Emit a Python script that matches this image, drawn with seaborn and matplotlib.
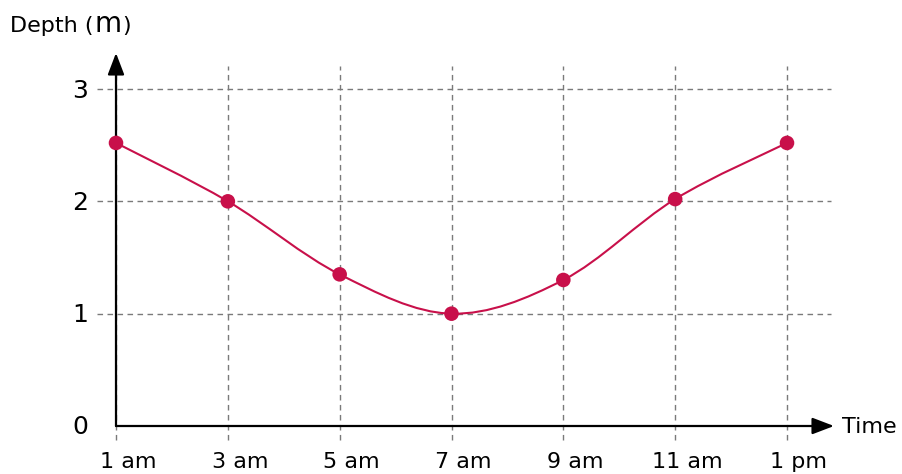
import numpy as np
import pandas as pd
import matplotlib
matplotlib.use("Agg")
import matplotlib.pyplot as plt
import seaborn as sns
from matplotlib.path import Path
from matplotlib.patches import PathPatch
import matplotlib.transforms as mtransforms

# ---- data ----
times = ["1 am", "3 am", "5 am", "7 am", "9 am", "11 am", "1 pm"]
depth = [2.52, 2.0, 1.35, 1.0, 1.3, 2.02, 2.52]
y_ticks = [0, 1, 2, 3]

sns.set_theme(style="white")
plt.rcParams['font.family'] = ['DejaVu Sans']
plt.rcParams['text.color'] = 'black'
plt.rcParams['xtick.color'] = 'black'
plt.rcParams['ytick.color'] = 'black'

RED = "#C8104A"
GRID = "#7a7a7a"

W, H = 902, 474
fig = plt.figure(figsize=(W / 100, H / 100), dpi=100)
x0, x1 = 116, 787
y0, y1 = 426, 89
ax = fig.add_axes([x0 / W, 1 - y0 / H, (x1 - x0) / W, (y0 - y1) / H])

df = pd.DataFrame({"time": times, "depth": depth, "pos": np.arange(len(times))})
ax.set_xlim(0, len(times) - 1)
ax.set_ylim(0, 3)
for s in ax.spines.values():
    s.set_visible(False)

pxx = (len(times) - 1) / (x1 - x0)   # data units per pixel in x
pxy = 3 / (y0 - y1)                  # data units per pixel in y

# grid lines (extend past the axes)
for i in range(len(times)):
    ax.plot([i, i], [-(440 - y0) * pxy, 3 + (y1 - 66) * pxy], color=GRID, lw=1,
            ls=(0, (4, 3.2)), clip_on=False, zorder=1)
for v in y_ticks[1:]:
    ax.plot([-(x0 - 97) * pxx, (831 - x0) * pxx], [v, v], color=GRID, lw=1,
            ls=(0, (4, 3.2)), clip_on=False, zorder=1)

# axes with arrows
arrow_style = "-|>,head_length=1.1,head_width=0.42"
ax.annotate("", xy=((834 - x0) * pxx, 0), xytext=(0, 0),
            arrowprops=dict(arrowstyle=arrow_style, color="black", lw=1.6,
                            shrinkA=0, shrinkB=0),
            annotation_clip=False, zorder=3)
ax.annotate("", xy=(0, 3 + (y1 - 53) * pxy), xytext=(0, 0),
            arrowprops=dict(arrowstyle=arrow_style, color="black", lw=1.6,
                            shrinkA=0, shrinkB=0),
            annotation_clip=False, zorder=3)

# smooth curve through the points (Catmull-Rom as cubic Bezier)
P = np.column_stack([df["pos"].values, df["depth"].values]).astype(float)
n = len(P)
verts = [P[0]]
codes = [Path.MOVETO]
for i in range(n - 1):
    p0 = P[i - 1] if i > 0 else P[i]
    p1, p2 = P[i], P[i + 1]
    p3 = P[i + 2] if i + 2 < n else P[i + 1]
    c1 = p1 + (p2 - p0) / 6
    c2 = p2 - (p3 - p1) / 6
    verts += [c1, c2, p2]
    codes += [Path.CURVE4] * 3
ax.add_patch(PathPatch(Path(verts, codes), facecolor="none", edgecolor=RED,
                       lw=1.5, zorder=4, clip_on=False))

sns.scatterplot(data=df, x="pos", y="depth", ax=ax, color=RED, s=110,
                edgecolor="none", zorder=5, clip_on=False, legend=False)

ax.set_xticks(range(len(times)))
ax.set_xticklabels(times, fontsize=16)
ax.set_yticks(y_ticks)
ax.set_yticklabels([str(v) for v in y_ticks], fontsize=18)
ax.tick_params(axis="x", length=0, pad=19)
ax.tick_params(axis="y", length=0, pad=20)
offset = mtransforms.ScaledTranslation(12 / 100, 0, fig.dpi_scale_trans)
for lab in ax.get_xticklabels():
    lab.set_transform(lab.get_transform() + offset)
yoff = mtransforms.ScaledTranslation(0, 1 / 100, fig.dpi_scale_trans)
for lab in ax.get_yticklabels():
    lab.set_transform(lab.get_transform() + yoff)
ax.set_xlabel("")
ax.set_ylabel("")

fig.text(842 / W, 1 - 427 / H, "Time", fontsize=16, ha="left", va="center")

base_y = H - 32  # baseline in figure pixels
t1 = ax.annotate("Depth (", xy=(10, base_y), xycoords="figure pixels",
                 fontsize=16, ha="left", va="baseline", annotation_clip=False)
t2 = ax.annotate("m", xy=(1, base_y), xycoords=(t1, "figure pixels"),
                 xytext=(0.5, 0), textcoords="offset points", fontsize=20,
                 ha="left", va="baseline", annotation_clip=False)
ax.annotate(")", xy=(1, base_y), xycoords=(t2, "figure pixels"),
            xytext=(0.5, 0), textcoords="offset points", fontsize=16,
            ha="left", va="baseline", annotation_clip=False)

fig.savefig("out.png", dpi=100)
